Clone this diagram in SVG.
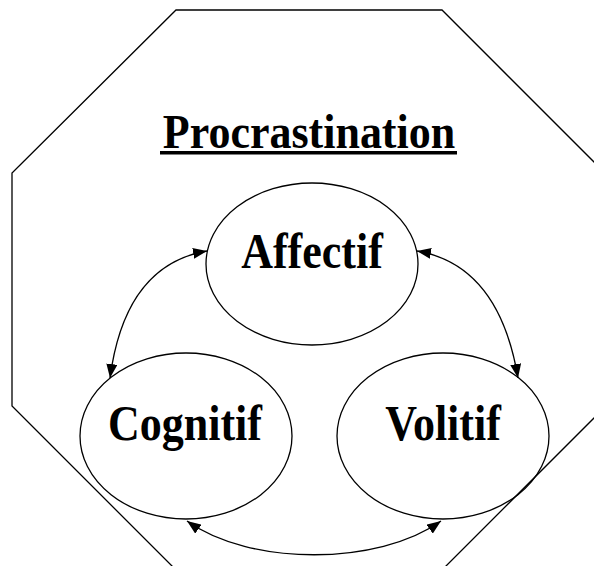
<svg xmlns="http://www.w3.org/2000/svg" width="594" height="566" viewBox="0 0 594 566">
<style>
.shape{fill:none;stroke:#000;stroke-width:1.3}
.lbl{font-family:"Liberation Serif","Times New Roman",serif;font-weight:bold;font-size:44px;fill:#000;text-anchor:middle}
.conn{fill:none;stroke:#000;stroke-width:1.3;marker-start:url(#ah);marker-end:url(#ah)}
</style>
<defs>
<marker id="ah" viewBox="0 0 14 11" refX="14" refY="5.5" markerWidth="14" markerHeight="11" markerUnits="userSpaceOnUse" orient="auto-start-reverse">
<path d="M0,0 L14,5.5 L0,11 Z" fill="#000"/>
</marker>
</defs>
<rect width="594" height="566" fill="#fff"/>
<g id="frame">
<polygon class="shape" points="176,10 442,10 606,174 606,406 442,570 176,570 12,406 12,173"/>
</g>
<g id="title">
<text class="lbl" transform="translate(309,148) scale(1,1.12)">Procrastination</text>
<rect x="160" y="151" width="297" height="3.5" fill="#000"/>
</g>
<g id="affectif">
<ellipse class="shape" cx="312" cy="264" rx="106" ry="81"/>
<text class="lbl" transform="translate(312,268) scale(1,1.14)">Affectif</text>
</g>
<g id="cognitif">
<ellipse class="shape" cx="186" cy="436" rx="106" ry="83"/>
<text class="lbl" transform="translate(185,440) scale(1,1.14)">Cognitif</text>
</g>
<g id="volitif">
<ellipse class="shape" cx="443" cy="436" rx="106" ry="83"/>
<text class="lbl" transform="translate(443,440) scale(1,1.14)">Volitif</text>
</g>
<g id="connectors">
<path class="conn" d="M207,251 Q125,265 110,378"/>
<path class="conn" d="M417,251 Q499,265 518,378"/>
<path class="conn" d="M187,521 C250,566 378,566 441,521"/>
</g>
</svg>
